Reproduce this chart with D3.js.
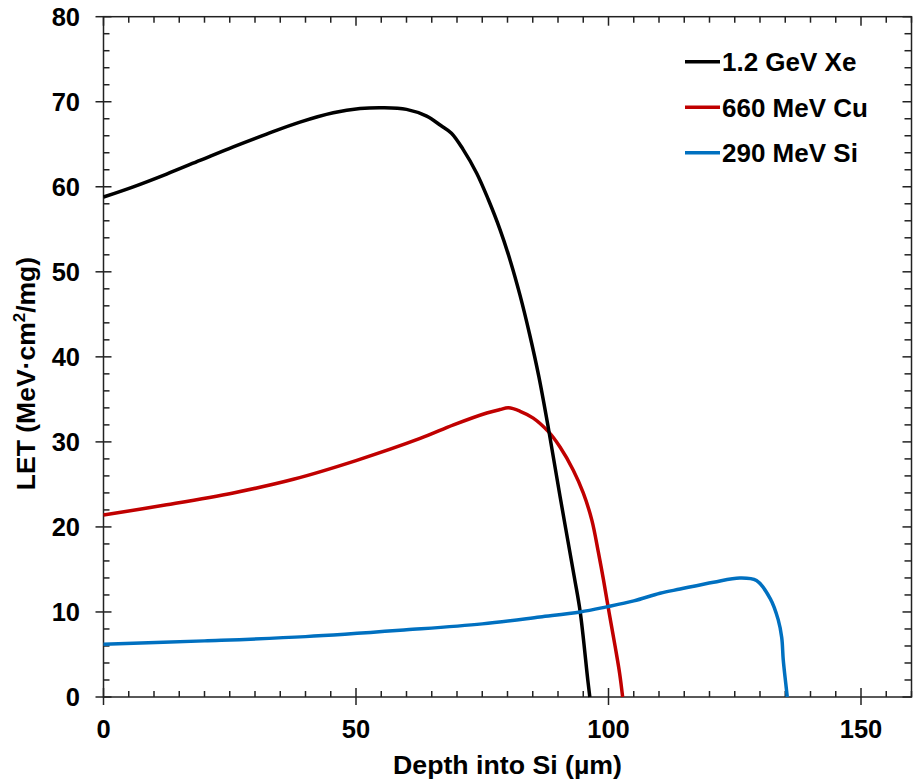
<!DOCTYPE html>
<html>
<head>
<meta charset="utf-8">
<script src="https://cdn.jsdelivr.net/npm/d3@7"></script>
<style>
  body { margin: 0; background: #fff; }
  text { font-family: "Liberation Sans", Arial, sans-serif; font-weight: bold; fill: #000; }
</style>
</head>
<body>
<svg id="chart" width="915" height="780"></svg>
<script>
// ---- Data ----
const xeDepth = [0, 5.9, 12.5, 19.1, 25.7, 32.3, 38.9, 45.5, 50.8, 55.4, 60.0, 64.0, 66.8, 68.9, 71.2, 73.9, 76.2, 78.5, 80.5, 82.5, 84.4, 86.2, 88.1, 90.4, 93.2, 94.4, 95.9, 96.3];
const xeLET   = [58.8, 60.0, 61.5, 63.1, 64.7, 66.2, 67.6, 68.7, 69.2, 69.3, 69.1, 68.3, 67.2, 66.3, 64.4, 61.6, 58.5, 55.0, 51.4, 47.2, 42.6, 37.7, 31.6, 23.6, 14.2, 10.0, 2.0, 0];

const cuDepth = [0, 12.5, 25.7, 37.6, 50, 62.7, 69.3, 75.9, 78.5, 80.2, 82.5, 85.1, 88.1, 90.4, 93.0, 95.0, 96.7, 98.0, 99.0, 100.1, 101.3, 102.2, 102.8];
const cuLET   = [21.4, 22.6, 24.0, 25.6, 27.8, 30.4, 32.0, 33.4, 33.8, 34.0, 33.6, 32.8, 31.2, 29.4, 26.7, 24.0, 20.8, 17.0, 13.8, 10.0, 6.0, 2.8, 0];

const siDepth = [0, 20, 40, 60, 75, 86.4, 94.4, 99.6, 105, 110.2, 114.2, 120.8, 126.0, 129.3, 132.0, 133.6, 134.3, 134.6, 135.1, 135.4];
const siLET   = [6.2, 6.6, 7.1, 7.9, 8.6, 9.4, 10.0, 10.6, 11.3, 12.2, 12.7, 13.5, 14.0, 13.7, 11.6, 9.1, 7.0, 4.4, 1.6, 0];

const seriesNames  = ["1.2 GeV Xe", "660 MeV Cu", "290 MeV Si"];
const seriesColors = ["#000000", "#c00000", "#0070c0"];

const xTickValues = [0, 50, 100, 150];
const yTickValues = [0, 10, 20, 30, 40, 50, 60, 70, 80];
const xTitle = "Depth into Si (µm)";

// ---- Layout ----
const svg = d3.select("#chart");
const pL = 103.5, pR = 911.5, pT = 16.7, pB = 697;
const x = d3.scaleLinear().domain([0, 160]).range([pL, pR]);
const y = d3.scaleLinear().domain([0, 80]).range([pB, pT]);

const axisColor = "#222";
const g = svg.append("g");

// frame
g.append("rect").attr("x", pL).attr("y", pT).attr("width", pR - pL).attr("height", pB - pT)
  .attr("fill", "none").attr("stroke", axisColor).attr("stroke-width", 1.5);

// x ticks (minor every 5, major every 50)
d3.range(0, 161, 5).forEach(v => {
  const px = x(v);
  const major = v % 50 === 0;
  g.append("line").attr("x1", px).attr("x2", px)
    .attr("y1", pB + (major ? 8 : 0)).attr("y2", pB - (major ? 9 : 6))
    .attr("stroke", axisColor).attr("stroke-width", 1.5);
  g.append("line").attr("x1", px).attr("x2", px)
    .attr("y1", pT).attr("y2", pT + (major ? 9 : 6))
    .attr("stroke", axisColor).attr("stroke-width", 1.5);
});
// y ticks (minor every 2, major every 10)
d3.range(0, 81, 2).forEach(v => {
  const py = y(v);
  const major = v % 10 === 0;
  g.append("line").attr("x1", pL - (major ? 8 : 0)).attr("x2", pL + (major ? 8 : 6))
    .attr("y1", py).attr("y2", py).attr("stroke", axisColor).attr("stroke-width", 1.5);
  g.append("line").attr("x1", pR).attr("x2", pR - (major ? 9 : 7))
    .attr("y1", py).attr("y2", py).attr("stroke", axisColor).attr("stroke-width", 1.5);
});

// tick labels
g.selectAll(".xl").data(xTickValues).enter().append("text")
  .attr("x", d => x(d)).attr("y", 737.5).attr("text-anchor", "middle")
  .style("font-size", "25.5px").text(d => d);
g.selectAll(".yl").data(yTickValues).enter().append("text")
  .attr("x", 80).attr("y", d => y(d) + 9).attr("text-anchor", "end")
  .style("font-size", "25.5px").text(d => d);

// axis titles
g.append("text").attr("x", 507.5).attr("y", 774).attr("text-anchor", "middle")
  .style("font-size", "26.7px").text(xTitle);

const yt = g.append("text").attr("transform", "translate(35,373.5) rotate(-90)").attr("text-anchor", "middle")
  .style("font-size", "26.5px");
yt.append("tspan").text("LET (MeV·cm");
yt.append("tspan").attr("dy", -10).style("font-size", "17px").text("2");
yt.append("tspan").attr("dy", 10).text("/mg)");

// lines
const line = d3.line().x(d => x(d[0])).y(d => y(d[1])).curve(d3.curveCatmullRom.alpha(0.5));
const series = [
  d3.zip(xeDepth, xeLET),
  d3.zip(cuDepth, cuLET),
  d3.zip(siDepth, siLET)
];
[1, 0, 2].forEach(i => {
  g.append("path").datum(series[i]).attr("d", line)
    .attr("fill", "none").attr("stroke", seriesColors[i]).attr("stroke-width", 3.5)
    .attr("stroke-linejoin", "round").attr("stroke-linecap", "butt");
});

// legend
const legendY = [61.7, 107.3, 152.7];
seriesNames.forEach((name, i) => {
  g.append("line").attr("x1", 685).attr("x2", 720).attr("y1", legendY[i]).attr("y2", legendY[i])
    .attr("stroke", seriesColors[i]).attr("stroke-width", 3.5);
  g.append("text").attr("x", 722).attr("y", legendY[i] + 9.3).style("font-size", "26px").text(name);
});
</script>
</body>
</html>
